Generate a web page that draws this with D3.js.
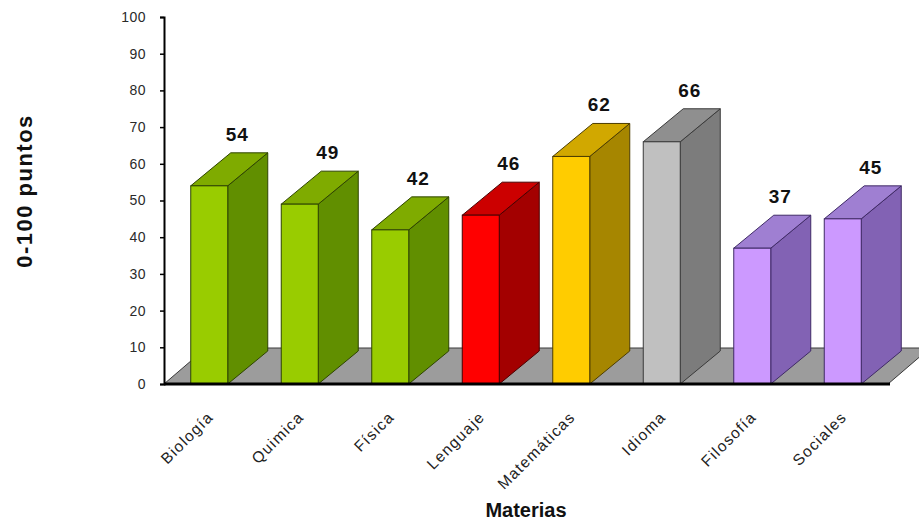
<!DOCTYPE html>
<html>
<head>
<meta charset="utf-8">
<script src="https://cdn.jsdelivr.net/npm/d3@7"></script>
<style>
  html, body { margin: 0; padding: 0; background: #fff; }
  svg { display: block; font-family: "Liberation Sans", Arial, sans-serif; }
</style>
</head>
<body>
<svg id="chart" width="919" height="525"></svg>
<script>
const categories = ["Biología", "Quimica", "Física", "Lenguaje", "Matemáticas", "Idioma", "Filosofía", "Sociales"];
const values = [54, 49, 42, 46, 62, 66, 37, 45];
const yTicks = [0, 10, 20, 30, 40, 50, 60, 70, 80, 90, 100];
const frontColors = ["#99cc00", "#99cc00", "#99cc00", "#ff0000", "#ffcc00", "#c0c0c0", "#cc99ff", "#cc99ff"];
const topColors   = ["#7fab00", "#7fab00", "#7fab00", "#cc0000", "#d1a800", "#8f8f8f", "#9f7fd2", "#9f7fd2"];
const sideColors  = ["#618f00", "#618f00", "#618f00", "#a30000", "#a68600", "#7c7c7c", "#8262b4", "#8262b4"];
const edgeColors  = ["#2e4400", "#2e4400", "#2e4400", "#4a0000", "#4d3d00", "#3a3a3a", "#3f2a66", "#3f2a66"];

const svg = d3.select("#chart");
const x = d3.scaleBand().domain(categories).range([164, 888]);
const y = d3.scaleLinear().domain([0, 100]).range([384, 17]);
const barW = 37, dX = 40, dY = 33;
const floorDX = 42, floorDY = 36;

// floor
const x0 = x.range()[0], x1 = x.range()[1], yb = y(0);
svg.append("polygon")
  .attr("points", [[x0, yb], [x1, yb], [x1 + floorDX, yb - floorDY], [x0 + floorDX, yb - floorDY]].map(p => p.join(",")).join(" "))
  .attr("fill", "#9c9c9c").attr("stroke", "#3a3a3a").attr("stroke-width", 1);

// bars
const g = svg.append("g");
categories.forEach((c, i) => {
  const v = values[i];
  const xl = x(c) + (x.bandwidth() - barW) / 2, xr = xl + barW;
  const yt = y(v), ybot = y(0);
  const stroke = edgeColors[i];
  g.append("polygon")
    .attr("points", [[xr, ybot], [xr + dX, ybot - dY], [xr + dX, yt - dY], [xr, yt]].map(p => p.join(",")).join(" "))
    .attr("fill", sideColors[i]).attr("stroke", stroke).attr("stroke-width", 1).attr("stroke-linejoin", "round");
  g.append("polygon")
    .attr("points", [[xl, yt], [xr, yt], [xr + dX, yt - dY], [xl + dX, yt - dY]].map(p => p.join(",")).join(" "))
    .attr("fill", topColors[i]).attr("stroke", stroke).attr("stroke-width", 1).attr("stroke-linejoin", "round");
  g.append("rect")
    .attr("x", xl).attr("y", yt).attr("width", barW).attr("height", ybot - yt)
    .attr("fill", frontColors[i]).attr("stroke", stroke).attr("stroke-width", 1);
  svg.append("text")
    .attr("x", xl + barW / 2 + 28).attr("y", yt - dY - 12)
    .attr("text-anchor", "middle")
    .attr("font-size", 19).attr("font-weight", "bold").attr("letter-spacing", 1)
    .attr("fill", "#111")
    .text(v);
});

// baseline
svg.append("line")
  .attr("x1", x0).attr("x2", x1 + 2).attr("y1", yb).attr("y2", yb)
  .attr("stroke", "#000").attr("stroke-width", 3);

// y axis
const yAxis = d3.axisLeft(y).tickValues(yTicks).tickSize(4).tickPadding(14);
const ya = svg.append("g").attr("transform", `translate(${x0},0)`).call(yAxis);
ya.select(".domain").attr("stroke", "#000").attr("stroke-width", 2);
ya.selectAll(".tick line").attr("stroke", "#000").attr("stroke-width", 1.5);
ya.selectAll(".tick text")
  .attr("font-family", "Liberation Sans, Arial, sans-serif")
  .attr("font-size", 14).attr("letter-spacing", 0.5).attr("fill", "#2a2a2a");

// category labels
categories.forEach(c => {
  const cx = x(c) + x.bandwidth() / 2 + 5;
  svg.append("text")
    .attr("transform", `translate(${cx},418) rotate(-45)`)
    .attr("text-anchor", "end")
    .attr("font-size", 15.5).attr("letter-spacing", 1.3)
    .attr("fill", "#222")
    .text(c);
});

// axis titles
svg.append("text")
  .attr("x", (x0 + x1) / 2).attr("y", 517)
  .attr("text-anchor", "middle")
  .attr("font-size", 20).attr("font-weight", "bold").attr("fill", "#111")
  .text("Materias");

svg.append("text")
  .attr("transform", "translate(32,191) rotate(-90)")
  .attr("text-anchor", "middle")
  .attr("font-size", 22).attr("font-weight", "bold").attr("fill", "#111")
  .attr("letter-spacing", 1.5)
  .text("0-100 puntos");
</script>
</body>
</html>
